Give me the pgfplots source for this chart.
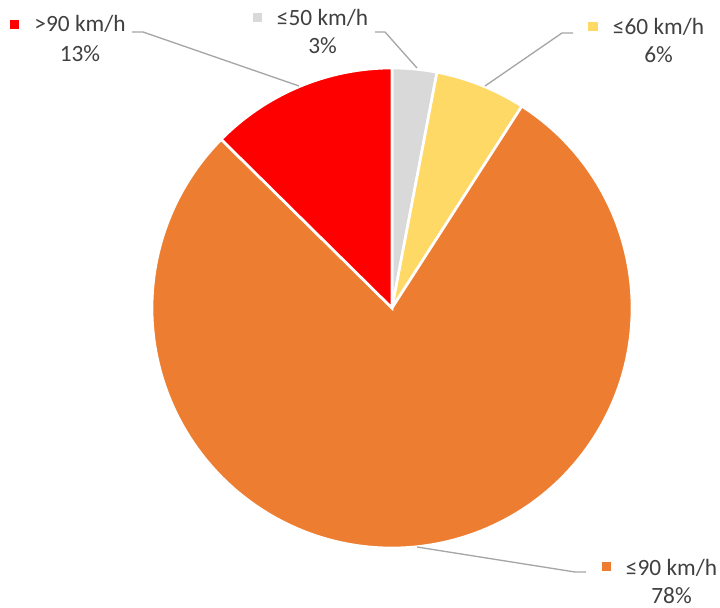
\documentclass[border=0pt]{standalone}
\usepackage{pgfplots}
\usepackage{pgfplotstable}
\pgfplotsset{compat=1.18}
\usepackage{fontspec}
\setmainfont{Carlito}

\definecolor{sGray}{HTML}{D9D9D9}
\definecolor{sYellow}{HTML}{FFD966}
\definecolor{sOrange}{HTML}{ED7D31}
\definecolor{sRed}{HTML}{FF0000}
\definecolor{leader}{HTML}{A6A6A6}
\definecolor{txt}{HTML}{404040}

% share of each speed class (%), clockwise from 12 o'clock
\pgfplotstableread{
class pct
50 3.0
60 6.1
90 78.3
91 12.6
}\speeddata

\tikzset{lbl/.style={text=txt, anchor=base, inner sep=0pt, font=\fontsize{17.5}{20}\selectfont}}

\begin{document}
\begin{tikzpicture}
% cumulative angles
\pgfplotstablegetelem{0}{pct}\of\speeddata
\pgfmathsetmacro\angA{90-3.6*\pgfplotsretval}
\pgfplotstablegetelem{1}{pct}\of\speeddata
\pgfmathsetmacro\angB{\angA-3.6*\pgfplotsretval}
\pgfplotstablegetelem{2}{pct}\of\speeddata
\pgfmathsetmacro\angC{\angB-3.6*\pgfplotsretval}
\def\R{180pt}
\begin{axis}[
    hide axis,
    x=0.75pt, y=0.75pt,
    xmin=0, xmax=720, ymin=0, ymax=607,
    clip=false,
]
% slices
\fill[sGray, draw=white, line width=2pt] (axis cs:392,299) -- ++(90:\R) arc[start angle=90, end angle=\angA, radius=\R] -- cycle;
\fill[sYellow, draw=white, line width=2pt] (axis cs:392,299) -- ++(\angA:\R) arc[start angle=\angA, end angle=\angB, radius=\R] -- cycle;
\fill[sOrange, draw=white, line width=2pt] (axis cs:392,299) -- ++(\angB:\R) arc[start angle=\angB, end angle=\angC, radius=\R] -- cycle;
\fill[sRed, draw=white, line width=2pt] (axis cs:392,299) -- ++(\angC:\R) arc[start angle=\angC, end angle=-270, radius=\R] -- cycle;

% leader lines
\draw[leader, line width=1pt] (axis cs:132,575) -- (axis cs:143,575) -- (axis cs:299,521);
\draw[leader, line width=1pt] (axis cs:375,575) -- (axis cs:385,575) -- (axis cs:417,539);
\draw[leader, line width=1pt] (axis cs:573,574) -- (axis cs:562,574) -- (axis cs:485,521);
\draw[leader, line width=1pt] (axis cs:417,60) -- (axis cs:575,35) -- (axis cs:586,35);

% labels
\fill[sRed] (axis cs:10,578) rectangle (axis cs:19,587);
\node[lbl] at (axis cs:80,575) {>90 km/h};
\node[lbl] at (axis cs:80,545) {13\%};

\fill[sGray] (axis cs:253,585) rectangle (axis cs:262,594);
\node[lbl] at (axis cs:322.5,581) {≤50 km/h};
\node[lbl] at (axis cs:322.5,553) {3\%};

\fill[sYellow] (axis cs:588,576) rectangle (axis cs:598,585);
\node[lbl] at (axis cs:658.5,572) {≤60 km/h};
\node[lbl] at (axis cs:658.5,544) {6\%};

\fill[sOrange] (axis cs:602,36) rectangle (axis cs:611,45);
\node[lbl] at (axis cs:671.5,32) {≤90 km/h};
\node[lbl] at (axis cs:671.5,4) {78\%};
\end{axis}
\pgfresetboundingbox
\path (current axis.south west) rectangle (current axis.north east);
\end{tikzpicture}
\end{document}
